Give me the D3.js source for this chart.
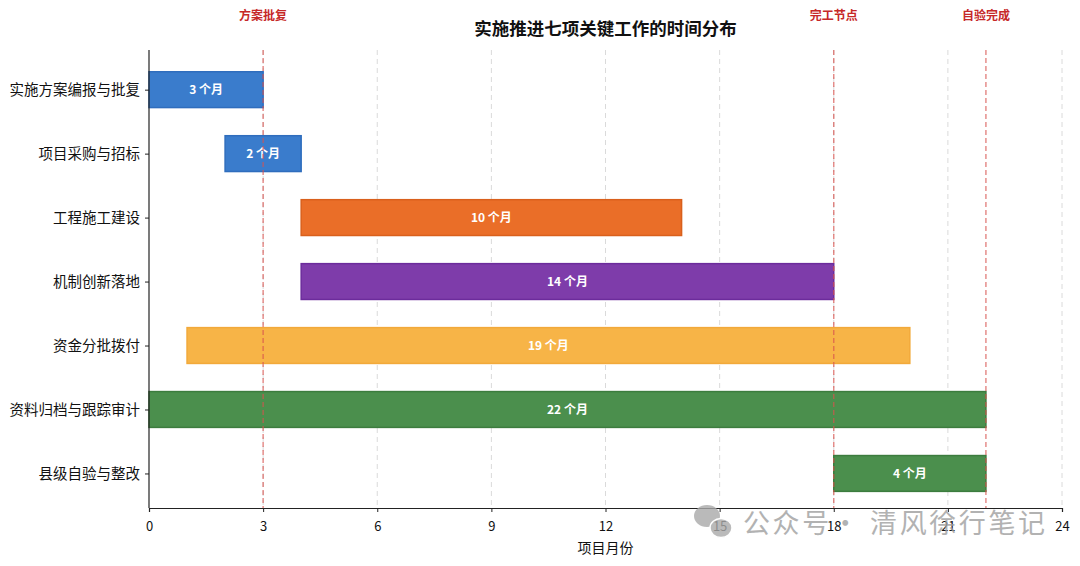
<!DOCTYPE html>
<html><head><meta charset="utf-8">
<script src="https://cdn.jsdelivr.net/npm/d3@7"></script>
<style>
html,body{margin:0;padding:0;background:#fff;}
svg{display:block;font-family:"Noto Sans CJK SC","Noto Sans",sans-serif;}
</style></head>
<body>
<svg id="c" width="1080" height="566"></svg>
<script>
const tasks = ["实施方案编报与批复","项目采购与招标","工程施工建设","机制创新落地","资金分批拨付","资料归档与跟踪审计","县级自验与整改"];
const starts = [0, 2, 4, 4, 1, 0, 18];
const durations = [3, 2, 10, 14, 19, 22, 4];
const colors = ["#3a7ccc","#3a7ccc","#ea6e28","#7e3caa","#f7b447","#4b8f4d","#4b8f4d"];
const edges = ["#2f6dbd","#2f6dbd","#d9601c","#6c2c9c","#f2a93a","#3c7c3e","#3c7c3e"];
const xTicks = [0,3,6,9,12,15,18,21,24];
const milestones = [3, 18, 22];
const milestoneLabels = ["方案批复","完工节点","自验完成"];
const title = "实施推进七项关键工作的时间分布";
const xLabel = "项目月份";
const watermark = "公众号· 清风徐行笔记";

const svg = d3.select("#c");
const L = 149, R = 1062, T = 50, B = 508;
const x = d3.scaleLinear().domain([0, 24]).range([L, R]);
const y = d3.scaleLinear().domain([-0.62, 6.54]).range([T, B]);
const barH = y(0.28) - y(-0.28);

// grid
svg.append("g").selectAll("line").data(xTicks.slice(1)).join("line")
  .attr("x1", d => x(d)).attr("x2", d => x(d)).attr("y1", T).attr("y2", B)
  .attr("stroke", "#d6d6d6").attr("stroke-width", 0.9).attr("stroke-dasharray", "5,4");

// bars
const g = svg.append("g");
g.selectAll("rect").data(tasks).join("rect")
  .attr("x", (d,i) => x(starts[i]))
  .attr("y", (d,i) => y(i) - barH/2)
  .attr("width", (d,i) => x(starts[i] + durations[i]) - x(starts[i]))
  .attr("height", barH)
  .attr("fill", (d,i) => colors[i])
  .attr("stroke", (d,i) => edges[i])
  .attr("stroke-width", 1.5);

g.selectAll("text").data(tasks).join("text")
  .attr("x", (d,i) => x(starts[i] + durations[i]/2))
  .attr("y", (d,i) => y(i))
  .attr("dy", "0.35em")
  .attr("text-anchor", "middle")
  .attr("fill", "#fff").attr("font-weight", "bold").attr("font-size", 12)
  .text((d,i) => durations[i] + " 个月");

// milestones
svg.append("g").selectAll("line").data(milestones).join("line")
  .attr("x1", d => x(d)).attr("x2", d => x(d)).attr("y1", T).attr("y2", B)
  .attr("stroke", "#d9534f").attr("stroke-opacity", 0.7).attr("stroke-width", 1.4)
  .attr("stroke-dasharray", "5,3");
svg.append("g").selectAll("text").data(milestones).join("text")
  .attr("x", d => x(d)).attr("y", 20)
  .attr("text-anchor", "middle").attr("fill", "#c62828")
  .attr("font-weight", "bold").attr("font-size", 12)
  .text((d,i) => milestoneLabels[i]);

// axes
const xAxis = d3.axisBottom(x).tickValues(xTicks).tickSize(4).tickPadding(10);
const xa = svg.append("g").attr("transform", `translate(0,${B})`).call(xAxis);
xa.select(".domain").attr("stroke", "#222").attr("stroke-width", 1.2);
xa.selectAll(".tick line").attr("stroke", "#222");
xa.selectAll("text").attr("font-size", 13).attr("fill", "#111").attr("font-family", "'Noto Sans CJK SC','Noto Sans',sans-serif");

const yAxis = d3.axisLeft(y).tickValues(d3.range(tasks.length)).tickFormat(i => tasks[i]).tickSize(4).tickPadding(5);
const ya = svg.append("g").attr("transform", `translate(${L},0)`).call(yAxis);
ya.select(".domain").attr("stroke", "#222").attr("stroke-width", 1.2).attr("d", `M-0,${T}V${B}`);
ya.selectAll(".tick line").attr("stroke", "#222");
ya.selectAll("text").attr("font-size", 14.5).attr("fill", "#111").attr("font-family", "'Noto Sans CJK SC','Noto Sans',sans-serif");

// title & label
svg.append("text").attr("x", (L+R)/2).attr("y", 35).attr("text-anchor", "middle")
  .attr("font-size", 17.5).attr("font-weight", "bold").attr("fill", "#111").text(title);
svg.append("text").attr("x", (L+R)/2).attr("y", 553).attr("text-anchor", "middle")
  .attr("font-size", 14).attr("fill", "#111").text(xLabel);

// watermark
const wm = svg.append("g").attr("opacity", 0.8);
wm.append("ellipse").attr("cx", 707).attr("cy", 516).attr("rx", 13).attr("ry", 11).attr("fill", "#aaa");
wm.append("ellipse").attr("cx", 721).attr("cy", 528).attr("rx", 11).attr("ry", 9.5).attr("fill", "#aaa").attr("stroke", "#fff").attr("stroke-width", 1.5);
wm.append("text").attr("x", 743).attr("y", 533).attr("font-size", 27).attr("fill", "#a0a0a0")
  .attr("textLength", 302).attr("lengthAdjust", "spacing")
  .text(watermark);
</script>
</body></html>
